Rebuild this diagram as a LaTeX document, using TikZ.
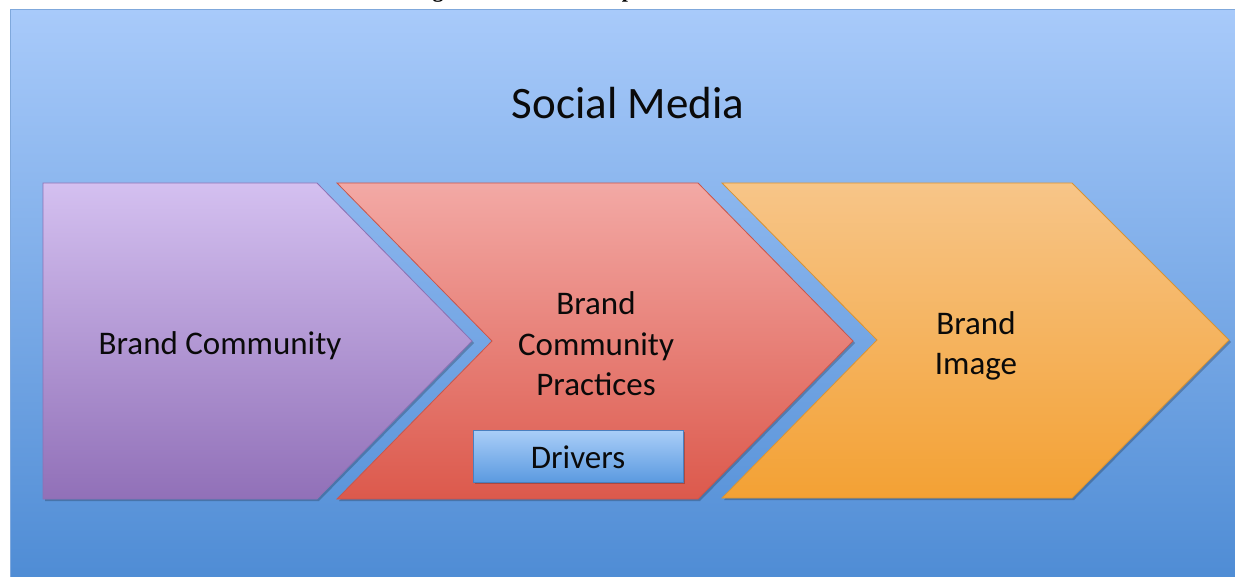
\documentclass[tikz,border=0pt]{standalone}
\usepackage{fontspec}
\setmainfont{Carlito}
\newfontfamily\captionfont{Liberation Serif}
\begin{document}
\definecolor{bgtop}{HTML}{A8CAFA}
\definecolor{bgbot}{HTML}{4D8BD4}
\definecolor{bgline}{HTML}{7FA8DC}
\definecolor{purtop}{HTML}{D4C0F0}
\definecolor{purbot}{HTML}{9170B8}
\definecolor{purline}{HTML}{8C72B4}
\definecolor{redtop}{HTML}{F3A9A5}
\definecolor{redbot}{HTML}{DC594C}
\definecolor{redline}{HTML}{C9564C}
\definecolor{orgtop}{HTML}{F7C588}
\definecolor{orgbot}{HTML}{F3A134}
\definecolor{orgline}{HTML}{D99434}
\definecolor{drvtop}{HTML}{AACEF8}
\definecolor{drvbot}{HTML}{5B9AE0}
\definecolor{drvline}{HTML}{4A7FBF}
\definecolor{ink}{HTML}{0A0A0A}
\begin{tikzpicture}[x=1pt,y=-1pt,
  shadowfill/.style={fill=black,opacity=0.22},
  label/.style={font=\fontsize{33}{40.5}\selectfont,text=ink,align=center,inner sep=0pt}]
\useasboundingbox (0,0) rectangle (1235,577);
\clip (0,0) rectangle (1235,577);
\fill[white] (0,0) rectangle (1235,577);
% descenders of the caption line above the panel
\node[font=\captionfont\bfseries\fontsize{22}{24}\selectfont,anchor=base,inner sep=0pt] (capg) at (438,-2) {g};
\node[font=\captionfont\bfseries\fontsize{22}{24}\selectfont,anchor=base,inner sep=0pt] (capp) at (628,-2) {p};
% panel
\fill[black,opacity=0.15] (12,12) rectangle (1250,590);
\shade[top color=bgtop,bottom color=bgbot] (10,10) rectangle (1250,590);
\draw[bgline,line width=1] (10,590) -- (10,10) -- (1250,10);
\node[font=\fontsize{45}{50}\selectfont,text=ink,inner sep=0pt] (title) at (628,103) {Social Media};
% chevron 1
\fill[shadowfill] (45,185) -- (319,185) -- (474,343) -- (319,501) -- (45,501) -- cycle;
\shade[top color=purtop,bottom color=purbot] (43,183) -- (317,183) -- (472,341) -- (317,499) -- (43,499) -- cycle;
\draw[purline,line width=0.8] (43,183) -- (317,183) -- (472,341) -- (317,499) -- (43,499) -- cycle;
\node[label] (bc) at (220,346) {Brand Community};
% chevron 2
\fill[shadowfill] (339,185) -- (700,185) -- (855,343) -- (700,501) -- (339,501) -- (494,343) -- cycle;
\shade[top color=redtop,bottom color=redbot] (337,183) -- (698,183) -- (853,341) -- (698,499) -- (337,499) -- (492,341) -- cycle;
\draw[redline,line width=0.8] (337,183) -- (698,183) -- (853,341) -- (698,499) -- (337,499) -- (492,341) -- cycle;
\node[label] (bcp) at (596,344) {Brand\\Community\\Practices};
% drivers box
\fill[shadowfill] (475,432) rectangle (685,484);
\shade[top color=drvtop,bottom color=drvbot] (473,430) rectangle (683,482);
\draw[drvline,line width=0.8] (473,430) rectangle (683,482);
\node[label] (drv) at (578,457) {Drivers};
% chevron 3
\fill[shadowfill] (724,185) -- (1074,185) -- (1231,342) -- (1074,500) -- (724,500) -- (879,342) -- cycle;
\shade[top color=orgtop,bottom color=orgbot] (722,183) -- (1072,183) -- (1229,340) -- (1072,498) -- (722,498) -- (877,340) -- cycle;
\draw[orgline,line width=0.8] (722,183) -- (1072,183) -- (1229,340) -- (1072,498) -- (722,498) -- (877,340) -- cycle;
\node[label] (bi) at (976,346) {Brand\\Image};
\end{tikzpicture}
\end{document}
